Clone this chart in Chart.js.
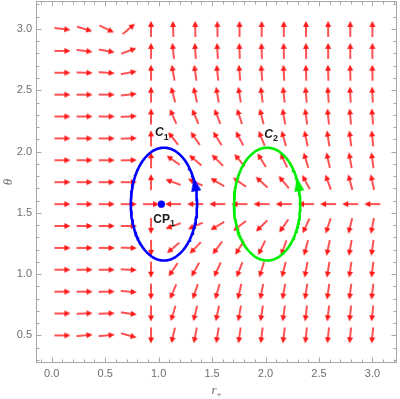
<!DOCTYPE html>
<html><head><meta charset="utf-8">
<script src="https://cdn.jsdelivr.net/npm/chart.js@4"></script>
<style>html,body{margin:0;padding:0;background:#fff}#wrap{width:400px;height:399px}</style>
</head><body><div id="wrap"><canvas id="c" width="400" height="399"></canvas></div>
<script>
// ---- data ----
const rValues = [0.1, 0.307, 0.514, 0.721, 0.929, 1.136, 1.343, 1.55, 1.757, 1.964, 2.171, 2.379, 2.586, 2.793, 3.0];
const thetaValues = [0.5, 0.679, 0.857, 1.036, 1.214, 1.393, 1.571, 1.75, 1.929, 2.107, 2.286, 2.464, 2.643, 2.821, 3.0];
// direction of the normalized vector at each grid point (degrees, counter-clockwise from +r), rows = thetaValues
const fieldAngles = [
  [0, 5, 5, -15, 270, 257, 259, 261, 262, 263, 263, 264, 264, 264, 265],
  [0, 2, 2, -8, 270, 253, 256, 258, 260, 261, 262, 263, 263, 264, 264],
  [0, 0, 1, -5, 270, 247, 251, 254, 257, 259, 260, 261, 262, 263, 263],
  [0, 0, 0, -3, 270, 236, 241, 245, 249, 253, 256, 259, 261, 262, 263],
  [0, 0, 0, -2, 270, 220, 226, 233, 238, 244, 250, 255, 258, 260, 262],
  [0, 0, 0, 0, 270, 200, 204, 211, 218, 224, 235, 245, 252, 256, 259],
  [0, 0, 0, 0, 0, 180, 180, 180, 180, 180, 180, 180, 180, 180, 180],
  [0, 0, 0, 0, 90, 160, 155, 149, 145, 138, 130, 118, 110, 105, 102],
  [0, 0, 0, 1, 90, 145, 140, 135, 130, 122, 115, 107, 103, 100, 98],
  [0, 0, 0, 2, 90, 128, 125, 122, 118, 112, 106, 102, 99, 97, 96],
  [0, 0, 0, 3, 90, 114, 113, 112, 108, 104, 100, 98, 96, 95, 95],
  [0, 0, -1, 6, 90, 105, 103, 100, 99, 97, 96, 95, 94, 93, 93],
  [0, -2, -4, 10, 90, 100, 98, 96, 95, 94, 93, 92, 92, 91, 91],
  [0, -7, -10, 20, 90, 96, 94, 93, 92, 92, 91, 91, 90, 90, 90],
  [-7, -17, -26, 40, 90, 92, 91, 91, 90, 90, 90, 90, 90, 90, 90]
];
const xTicks = [0, 0.5, 1.0, 1.5, 2.0, 2.5, 3.0];
const yTicks = [0.5, 1.0, 1.5, 2.0, 2.5, 3.0];

// contours C1, C2 (ellipses)
const contourNames = ['C', 'C'];
const contourSubs = ['1', '2'];
const contourColors = ['#0000ff', '#00ee00'];
const contourCenterR = [1.05, 2.015];
const contourCenterTheta = [1.571, 1.571];
const contourSemiR = [0.31, 0.31];
const contourSemiTheta = [0.46, 0.46];
const contourArrowPhase = [0.36, 0.36];
const contourArrowAngle = [100, 100];
const contourLabelR = [0.966, 1.989];
const contourLabelTheta = [2.15, 2.139];

// critical point CP1
const cpR = [1.026];
const cpTheta = [1.571];
const cpLabelR = [0.95];
const cpLabelTheta = [1.4475];

// ---- build datasets ----
function makeArrow(color, len, headLen, headHalf, lw, size) {
  const c = document.createElement('canvas');
  c.width = size; c.height = size;
  const g = c.getContext('2d');
  const cx = size / 2, cy = size / 2;
  g.strokeStyle = color; g.fillStyle = color; g.lineWidth = lw;
  g.beginPath(); g.moveTo(cx - len / 2, cy); g.lineTo(cx + len / 2 - headLen + 1, cy); g.stroke();
  g.beginPath(); g.moveTo(cx + len / 2, cy);
  g.lineTo(cx + len / 2 - headLen, cy - headHalf);
  g.lineTo(cx + len / 2 - headLen, cy + headHalf);
  g.closePath(); g.fill();
  return c;
}
function makeHead(color, len, half, size) {
  const c = document.createElement('canvas');
  c.width = size; c.height = size;
  const g = c.getContext('2d');
  const cx = size / 2, cy = size / 2;
  g.fillStyle = color;
  g.beginPath(); g.moveTo(cx + len / 2, cy); g.lineTo(cx - len / 2, cy - half); g.lineTo(cx - len / 2, cy + half); g.closePath(); g.fill();
  return c;
}
const arrowImg = makeArrow('#ff1a1a', 16, 6, 2.9, 1.5, 20);

const fieldPoints = [], fieldRot = [];
thetaValues.forEach((t, i) => rValues.forEach((r, j) => {
  fieldPoints.push({x: r, y: t});
  fieldRot.push(-fieldAngles[i][j]);
}));

const datasets = [{
  label: 'field', data: fieldPoints, order: 10,
  pointStyle: arrowImg, pointRadius: 8, rotation: ctx => fieldRot[ctx.dataIndex] || 0
}];
contourCenterR.forEach((cr, k) => {
  const pts = [];
  const N = 160;
  for (let i = 0; i <= N; i++) {
    const p = 2 * Math.PI * i / N;
    pts.push({x: cr + contourSemiR[k] * Math.cos(p), y: contourCenterTheta[k] + contourSemiTheta[k] * Math.sin(p)});
  }
  datasets.push({label: contourNames[k] + contourSubs[k], data: pts, showLine: true, pointRadius: 0,
    borderColor: contourColors[k], borderWidth: 2.6, tension: 0, order: 5});
  const ph = contourArrowPhase[k];
  datasets.push({label: 'head' + k, order: 1,
    data: [{x: cr + contourSemiR[k] * Math.cos(ph), y: contourCenterTheta[k] + contourSemiTheta[k] * Math.sin(ph)}],
    pointStyle: makeHead(contourColors[k], 14, 5, 20), pointRadius: 8, rotation: -contourArrowAngle[k]});
});
datasets.push({label: 'CP1', data: cpR.map((r, i) => ({x: r, y: cpTheta[i]})), order: 1,
  pointStyle: 'circle', pointRadius: 3.6, backgroundColor: '#0000ff', borderWidth: 0});

const GRAY = '#a8a8a8';
const framePlugin = {
  id: 'frame',
  beforeDatasetsDraw(chart) {
    const {ctx, chartArea: a, scales: {x, y}} = chart;
    ctx.save();
    ctx.strokeStyle = GRAY; ctx.lineWidth = 1;
    const L = a.left + 0.5, R = a.right - 0.5, T = a.top + 0.5, B = a.bottom - 0.5;
    ctx.strokeRect(L, T, R - L, B - T);
    ctx.beginPath();
    const isMajor = (v, list) => list.some(m => Math.abs(m - v) < 1e-6);
    for (let k = Math.ceil(x.min * 10); k <= Math.floor(x.max * 10); k++) {
      const v = k / 10, px = Math.round(x.getPixelForValue(v)) + 0.5;
      const len = isMajor(v, xTicks) ? 5 : 3;
      ctx.moveTo(px, B); ctx.lineTo(px, B - len);
      ctx.moveTo(px, T); ctx.lineTo(px, T + len);
    }
    for (let k = Math.ceil(y.min * 10); k <= Math.floor(y.max * 10); k++) {
      const v = k / 10, py = Math.round(y.getPixelForValue(v)) + 0.5;
      const len = isMajor(v, yTicks) ? 5 : 3;
      ctx.moveTo(L, py); ctx.lineTo(L + len, py);
      ctx.moveTo(R, py); ctx.lineTo(R - len, py);
    }
    ctx.stroke();
    ctx.restore();
  },
  afterDatasetsDraw(chart) {
    const {ctx, chartArea: a, scales: {x, y}} = chart;
    ctx.save();
    ctx.fillStyle = '#1a1a1a';
    ctx.textBaseline = 'middle'; ctx.textAlign = 'left';
    const drawSub = (main, sub, r, t, mainFont) => {
      const px = x.getPixelForValue(r), py = y.getPixelForValue(t);
      ctx.font = mainFont; ctx.fillText(main, px, py);
      const w = ctx.measureText(main).width;
      ctx.font = 'bold 9px "Liberation Sans"'; ctx.fillText(sub, px + w, py + 4);
    };
    contourNames.forEach((n, k) => drawSub(n, contourSubs[k], contourLabelR[k], contourLabelTheta[k], 'italic bold 12px "Liberation Sans"'));
    drawSub('CP', '1', cpLabelR[0], cpLabelTheta[0], 'bold 12px "Liberation Sans"');
    // x-axis title r_+
    ctx.fillStyle = '#6e6e6e';
    ctx.font = 'italic 13px "Liberation Serif"';
    const cx = (a.left + a.right) / 2;
    const wr = ctx.measureText('r').width;
    ctx.fillText('r', cx - wr, x.bottom - 8);
    ctx.font = '9px "Liberation Serif"';
    ctx.fillText('+', cx, x.bottom - 4);
    ctx.restore();
  }
};

new Chart(document.getElementById('c'), {
  type: 'scatter',
  data: {datasets},
  options: {
    responsive: false, devicePixelRatio: 1, animation: false,
    layout: {autoPadding: false, padding: {left: 0, top: 1, right: 3, bottom: 0}},
    plugins: {legend: {display: false}, tooltip: {enabled: false}},
    scales: {
      x: {
        type: 'linear', min: -0.147, max: 3.23,
        afterBuildTicks: s => { s.ticks = xTicks.map(v => ({value: v})); },
        afterFit: s => { s.height = 36; s.paddingLeft = 0; s.paddingRight = 0; s.paddingTop = 0; s.paddingBottom = 0; },
        ticks: {callback: v => Number(v).toFixed(1), font: {family: 'Liberation Sans', size: 11}, color: '#6e6e6e', padding: 4, maxRotation: 0, autoSkip: false},
        grid: {display: false, drawTicks: false}, border: {display: false},
        title: {display: false}
      },
      y: {
        type: 'linear', min: 0.275, max: 3.228,
        afterBuildTicks: s => { s.ticks = yTicks.map(v => ({value: v})); },
        afterFit: s => { s.width = 36; s.paddingLeft = 0; s.paddingRight = 0; s.paddingTop = 0; s.paddingBottom = 0; },
        ticks: {callback: v => Number(v).toFixed(1), font: {family: 'Liberation Sans', size: 11}, color: '#6e6e6e', padding: 4, autoSkip: false},
        grid: {display: false, drawTicks: false}, border: {display: false},
        title: {display: true, text: 'θ', font: {family: 'Liberation Serif', size: 13, style: 'italic'}, color: '#6e6e6e', padding: {top: 1, bottom: 0}}
      }
    }
  },
  plugins: [framePlugin]
});
</script>
</body></html>
